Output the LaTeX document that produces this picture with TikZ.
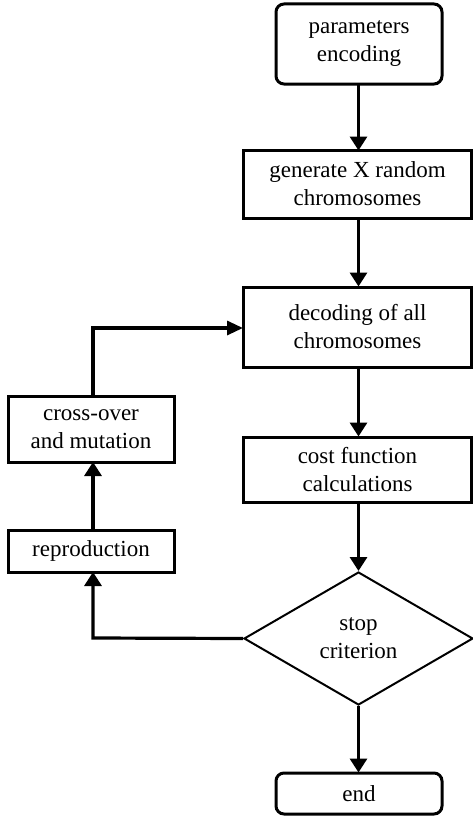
\documentclass[tikz,border=0pt]{standalone}
\usepackage{fontspec}
\setmainfont{Liberation Serif}
\usetikzlibrary{shapes.geometric,arrows.meta}
\begin{document}
\begin{tikzpicture}[x=1pt,y=-1pt,
  box/.style={draw,line width=3pt,align=center,inner sep=0pt,font=\fontsize{23}{28}\selectfont},
  rbox/.style={box,rounded corners=8pt},
  dec/.style={draw,diamond,line width=2pt,align=center,inner sep=0pt,font=\fontsize{23}{28}\selectfont},
  arr/.style={line width=3.2pt,-{Triangle[length=14pt,width=17pt]}},
  harr/.style={line width=3.2pt,-{Triangle[length=16pt,width=14pt]}}]
\fill[white] (0,0) rectangle (473,816);
\useasboundingbox (0,0) rectangle (473,816);
\node[rbox,minimum width=166pt,minimum height=80pt] (param) at (359,44) {parameters\\encoding};
\node[box,minimum width=228pt,minimum height=68pt] (gen) at (357.5,184) {generate X random\\chromosomes};
\node[box,minimum width=228pt,minimum height=80pt] (decode) at (357.5,327) {decoding of all\\chromosomes};
\node[box,minimum width=228pt,minimum height=65pt] (cost) at (357.5,469.5) {cost function\\calculations};
\node[dec,minimum width=229pt,minimum height=133pt] (stop) at (358.5,638.5) {stop\\criterion};
\node[rbox,minimum width=166pt,minimum height=41pt] (end) at (359,793.5) {end};
\node[box,minimum width=166pt,minimum height=66pt] (cross) at (91,429) {cross-over\\and mutation};
\node[box,minimum width=166pt,minimum height=42pt] (repro) at (91,551) {reproduction};
\coordinate (c1) at (93,638);
\coordinate (c2) at (93,328);
\draw[arr] (358.5,84) -- (358.5,150.5);
\draw[arr] (358.5,218) -- (358.5,286.5);
\draw[arr] (358.5,367) -- (358.5,436.5);
\draw[arr] (358.5,502) -- (stop.north);
\draw[arr] (stop.south) -- (358.5,772.5);
\draw[arr] (stop.west) -- (c1) -- (93,572);
\draw[arr] (93,530) -- (93,462);
\draw[harr] (93,396) -- (c2) -- (243,328);
\end{tikzpicture}
\end{document}
